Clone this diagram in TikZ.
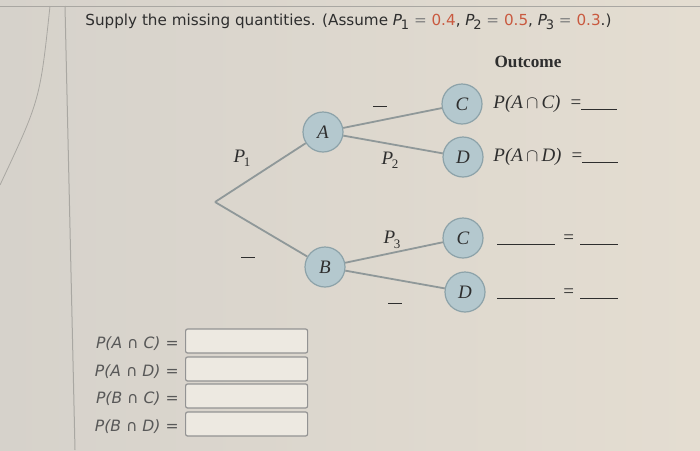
\documentclass[tikz,border=0pt]{standalone}
\usepackage{fontspec}
\setmainfont{Liberation Serif}
\newfontfamily\uifont{DejaVu Sans}
\usetikzlibrary{positioning}
\definecolor{bgl}{HTML}{D6D2CB}
\definecolor{bgr}{HTML}{E4DDD1}
\definecolor{nodefill}{HTML}{B4C8CE}
\definecolor{nodeline}{HTML}{8CA2A9}
\definecolor{edgegray}{HTML}{8F9899}
\definecolor{numred}{HTML}{C9593F}
\definecolor{inkgray}{HTML}{2E2E2E}
\definecolor{framegray}{HTML}{A9A7A2}
\newcommand\answerline[1]{\rule[-0.6pt]{#1}{0.45pt}}
\newcommand\psub[1]{\textit{P}\kern-0.6pt\raisebox{-2.2pt}{\fontsize{6.5}{6}\selectfont #1}}

\begin{document}
\begin{tikzpicture}[x=0.5pt, y=-0.5pt,
  ev/.style={circle, draw=nodeline, fill=nodefill, line width=0.6pt, inner sep=0pt,
    minimum size=20pt, font=\fontsize{9.5}{10}\selectfont\itshape, text=inkgray},
  br/.style={draw=edgegray, line width=0.9pt},
  lbl/.style={inner sep=0pt, font=\fontsize{9.5}{10}\selectfont, text=inkgray},
  outtext/.style={anchor=west, inner sep=0pt, font=\fontsize{9.5}{10}\selectfont, text=inkgray},
  ask/.style={inner sep=0pt, font=\uifont\fontsize{7.8}{9}\selectfont, text=inkgray!80},
  ansbox/.style={draw=gray!85, line width=0.6pt, rounded corners=1pt, fill=white!35!bgr,
    minimum width=61pt, minimum height=12pt, inner sep=0pt, anchor=west}
]
\useasboundingbox (0,0) rectangle (700,450);
\shade[left color=bgl, right color=bgr] (0,0) rectangle (700,450);
\draw[framegray, line width=0.5pt] (0,6) -- (700,6);
\draw[framegray, line width=0.5pt] (65,6) -- (75,450);
\draw[framegray, line width=0.4pt] (50,6) .. controls (40,100) .. (0,185);

\node[anchor=west, inner sep=0pt, font=\uifont\fontsize{7.6}{9}\selectfont, text=inkgray] (title) at (85,22)
  {Supply the missing quantities. (Assume \psub{1} {\color{gray}=} {\color{numred}0.4}, \psub{2} {\color{gray}=} {\color{numred}0.5}, \psub{3} {\color{gray}=} {\color{numred}0.3}.)};
\node[font=\bfseries\fontsize{8.6}{10}\selectfont, text=inkgray] (head) at (528,62) {Outcome};

\coordinate (root) at (215,202);
\node[ev] (A) at (323,132) {A};
\node[ev] (B) at (325,267) {B};
\node[ev] (AC) at (462,104) {C};
\node[ev] (AD) at (463,157) {D};
\node[ev] (BC) at (463,238) {C};
\node[ev] (BD) at (465,292) {D};
\draw[br] (root) -- (A);
\draw[br] (root) -- (B);
\draw[br] (A) -- (AC);
\draw[br] (A) -- (AD);
\draw[br] (B) -- (BC);
\draw[br] (B) -- (BD);

\node[lbl] (pA) at (242,158) {\psub{1}};
\node[lbl] (pB) at (248,257) {\answerline{7pt}};
\node[lbl] (pAC) at (380,106) {\answerline{7pt}};
\node[lbl] (pAD) at (390,160) {\psub{2}};
\node[lbl] (pBC) at (392,240) {\psub{3}};
\node[lbl] (pBD) at (395,303) {\answerline{7pt}};

\node[outtext] (oAC) at (493,104) {\textit{P(A}$\,\cap\,$\textit{C)}\hspace{5pt}=\answerline{18pt}};
\node[outtext] (oAD) at (493,157) {\textit{P(A}$\,\cap\,$\textit{D)}\hspace{5pt}=\answerline{18pt}};
\node[outtext] (oBC) at (497,240) {\answerline{29pt}\hspace{4pt}=\hspace{3pt}\answerline{19pt}};
\node[outtext] (oBD) at (497,294) {\answerline{29pt}\hspace{4pt}=\hspace{3pt}\answerline{19pt}};

\node[ansbox] (bAC) at (185,341) {};
\node[ansbox] (bAD) at (185,369) {};
\node[ansbox] (bBC) at (185,396) {};
\node[ansbox] (bBD) at (185,424) {};
\node[ask, left=3pt of bAC, yshift=-1.5pt] (qAC) {\textit{P(A} ∩ \textit{C)} =};
\node[ask, left=3pt of bAD, yshift=-1.5pt] (qAD) {\textit{P(A} ∩ \textit{D)} =};
\node[ask, left=3pt of bBC, yshift=-1.5pt] (qBC) {\textit{P(B} ∩ \textit{C)} =};
\node[ask, left=3pt of bBD, yshift=-1.5pt] (qBD) {\textit{P(B} ∩ \textit{D)} =};
\end{tikzpicture}
\end{document}
